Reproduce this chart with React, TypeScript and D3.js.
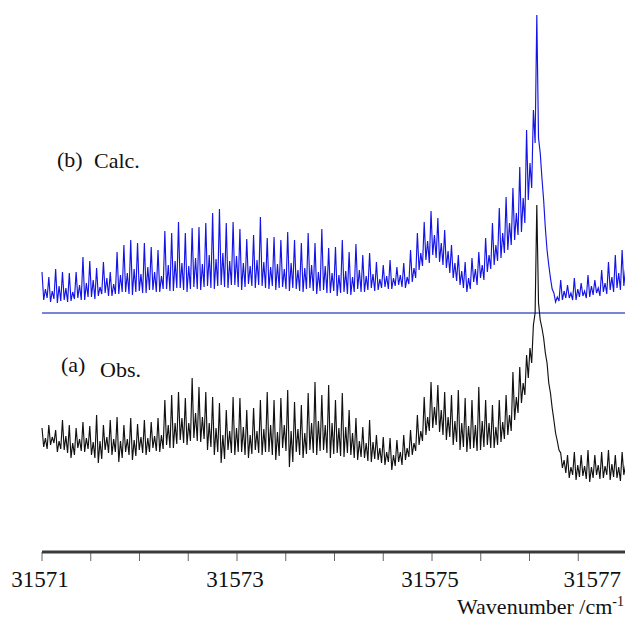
import React from "react";
import * as d3 from "d3";

// Wavenumber grid: first point and spacing (cm-1)
const GRID_START = 31571;
const GRID_STEP = 0.0175;

// Calculated spectrum (b), arbitrary intensity units above its baseline
const calcValues: number[] = [
  41, 13, 24, 15, 36, 11, 22, 14, 44, 10, 27, 12, 41, 13, 25, 11, 40, 12, 21, 14,
  41, 15, 28, 13, 56, 13, 30, 16, 52, 16, 33, 14, 45, 17, 26, 19, 51, 20, 35, 17,
  41, 17, 29, 19, 61, 19, 38, 21, 68, 21, 40, 19, 73, 18, 44, 21, 70, 22, 39, 20,
  70, 20, 46, 23, 66, 23, 41, 21, 63, 21, 37, 24, 82, 24, 48, 22, 80, 22, 52, 25,
  91, 25, 50, 23, 80, 21, 47, 24, 85, 26, 55, 24, 86, 23, 49, 26, 90, 27, 58, 25,
  100, 24, 54, 27, 104, 28, 60, 26, 90, 25, 52, 28, 91, 28, 57, 26, 84, 23, 50, 26,
  74, 29, 47, 27, 78, 25, 53, 28, 96, 27, 51, 25, 75, 24, 46, 27, 76, 23, 49, 25,
  73, 26, 44, 24, 81, 22, 50, 25, 73, 24, 43, 22, 70, 21, 45, 24, 80, 25, 48, 22,
  70, 19, 41, 22, 84, 23, 47, 20, 65, 20, 40, 22, 66, 17, 38, 20, 73, 21, 42, 19,
  61, 18, 36, 21, 69, 24, 43, 21, 58, 21, 37, 23, 60, 25, 39, 22, 51, 23, 34, 25,
  48, 26, 37, 24, 53, 24, 35, 27, 46, 28, 38, 26, 50, 25, 36, 29, 63, 31, 45, 35,
  80, 43, 60, 47, 91, 53, 72, 50, 102, 58, 78, 55, 95, 51, 70, 48, 83, 45, 62, 40,
  68, 35, 50, 32, 58, 28, 42, 25, 51, 21, 35, 24, 55, 31, 44, 28, 61, 35, 48, 33,
  75, 41, 58, 44, 90, 48, 68, 52, 105, 55, 80, 60, 116, 63, 90, 68, 125, 73, 100, 78,
  146, 81, 115, 90, 183, 113, 150, 125, 203, 170, 298, 175, 160, 135, 113, 85, 63, 48, 35, 24,
  20, 11, 16, 12, 33, 13, 22, 15, 28, 15, 20, 13, 35, 13, 24, 16, 30, 17, 22, 15,
  38, 16, 27, 18, 33, 20, 25, 17, 43, 21, 30, 19, 51, 23, 36, 21, 58, 25, 40, 23,
  63, 27, 44, 26,
];

// Observed spectrum (a), arbitrary intensity units above the axis
const obsValues: number[] = [
  125, 106, 115, 104, 128, 108, 116, 110, 123, 101, 112, 104, 133, 103, 117, 100, 128, 95, 110, 98,
  125, 105, 114, 102, 131, 101, 115, 104, 127, 98, 111, 95, 138, 90, 112, 94, 128, 103, 116, 100,
  133, 98, 114, 101, 136, 91, 112, 95, 128, 101, 114, 98, 135, 93, 113, 97, 129, 103, 116, 100,
  133, 98, 115, 101, 131, 105, 117, 102, 135, 101, 118, 104, 153, 108, 128, 105, 158, 105, 130, 109,
  161, 113, 135, 110, 155, 108, 130, 112, 175, 115, 140, 112, 166, 111, 136, 114, 161, 103, 130, 106,
  156, 98, 125, 101, 150, 90, 118, 94, 143, 103, 122, 100, 156, 98, 125, 101, 155, 101, 126, 98,
  143, 95, 118, 99, 145, 103, 122, 100, 153, 98, 124, 101, 161, 101, 128, 98, 153, 93, 121, 97,
  155, 105, 128, 102, 163, 86, 122, 91, 151, 101, 124, 98, 148, 95, 120, 99, 160, 103, 130, 100,
  171, 98, 132, 102, 158, 103, 128, 100, 168, 95, 130, 99, 153, 100, 125, 97, 160, 96, 126, 100,
  143, 98, 120, 95, 135, 93, 112, 96, 126, 95, 110, 92, 133, 91, 111, 94, 118, 93, 105, 90,
  116, 88, 101, 91, 115, 83, 98, 87, 113, 91, 101, 88, 118, 93, 105, 96, 123, 98, 110, 102,
  138, 108, 122, 112, 156, 118, 136, 122, 171, 125, 146, 128, 168, 121, 143, 118, 161, 113, 136, 116,
  158, 108, 132, 111, 163, 103, 130, 106, 155, 101, 127, 104, 153, 105, 128, 102, 166, 103, 132, 106,
  153, 108, 130, 105, 148, 105, 126, 108, 153, 111, 131, 114, 158, 118, 138, 122, 181, 133, 156, 140,
  186, 150, 170, 158, 198, 175, 205, 190, 228, 240, 348, 250, 233, 225, 215, 200, 190, 170, 160, 145,
  133, 120, 112, 103, 100, 85, 93, 80, 98, 75, 86, 78, 101, 73, 88, 76, 98, 77, 87, 74,
  103, 71, 86, 75, 98, 78, 88, 74, 101, 75, 87, 78, 103, 73, 89, 76, 98, 75, 86, 72,
  101, 78, 88, 76,
];

const OBS_OFFSET = -240;

const tickMajor = [31571, 31573, 31575, 31577];
const tickMinor = [31571, 31571.5, 31572, 31572.5, 31573, 31573.5, 31574, 31574.5, 31575, 31575.5, 31576, 31576.5, 31577];

const W = 625;
const H = 619;
const FONT = "Liberation Serif, DejaVu Serif, Times New Roman, serif";

export default function App() {
  const x = d3.scaleLinear().domain([31571, 31577]).range([42, 627]);
  const y = d3.scaleLinear().domain([-240, 300]).range([553, 13]);

  const calcLine = d3
    .line<number>()
    .x((_, i) => x(GRID_START + i * GRID_STEP))
    .y((v) => y(v));
  const obsLine = d3
    .line<number>()
    .x((_, i) => x(GRID_START + i * GRID_STEP))
    .y((v) => y(v + OBS_OFFSET));

  const axisY = 552;

  return (
    <svg
      width={W}
      height={H}
      style={{ position: "absolute", left: 0, top: 0, background: "#fff", fontFamily: FONT }}
    >
      <line x1={x(31571)} x2={W} y1={y(0)} y2={y(0)} stroke="#4b5cc4" strokeWidth={1.5} />
      <path d={calcLine(calcValues) || ""} fill="none" stroke="#1414e6" strokeWidth={1.15} />
      <path d={obsLine(obsValues) || ""} fill="none" stroke="#111" strokeWidth={1.15} />

      {tickMinor.map((t) => (
        <line key={"t" + t} x1={x(t)} x2={x(t)} y1={axisY} y2={axisY + 9} stroke="#666" strokeWidth={1} />
      ))}
      <line x1={x(31571)} x2={W} y1={axisY} y2={axisY} stroke="#3a3a3a" strokeWidth={3} />
      {tickMajor.map((t) => {
        const px = x(t);
        const overflow = px + 30 > W;
        return (
          <text
            key={"l" + t}
            x={overflow ? W - 4 : px - 2}
            y={587}
            fontSize={23}
            textAnchor={overflow ? "end" : "middle"}
            fill="#111"
            fontFamily={FONT}
          >
            {t}
          </text>
        );
      })}
      <text x={W - 1} y={614} fontSize={22} textAnchor="end" fill="#111" fontFamily={FONT}>
        Wavenumber /cm
        <tspan dy={-8} fontSize={14}>-1</tspan>
      </text>

      <text x={57} y={167} fontSize={22} fill="#111" fontFamily={FONT}>(b)</text>
      <text x={94} y={168} fontSize={22} fill="#111" fontFamily={FONT}>Calc.</text>
      <text x={61} y={372} fontSize={22} fill="#111" fontFamily={FONT}>(a)</text>
      <text x={100} y={377} fontSize={22} fill="#111" fontFamily={FONT}>Obs.</text>
    </svg>
  );
}
